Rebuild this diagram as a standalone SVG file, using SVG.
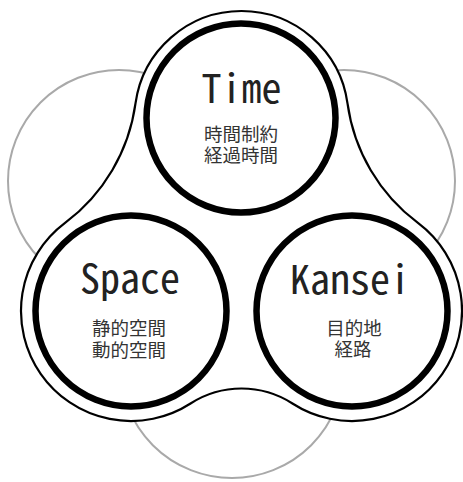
<svg xmlns="http://www.w3.org/2000/svg" width="463" height="482" viewBox="0 0 463 482">
<style>
.bg{fill:none;stroke:#a9a9a9;stroke-width:2}
.blob{fill:#fff;stroke:#000;stroke-width:2.2}
.ring{fill:#fff;stroke:#000;stroke-width:6.5}
.title{font-family:"Noto Sans Mono CJK JP","Noto Sans CJK JP","DejaVu Sans Mono",monospace;font-size:40px;fill:#222;text-anchor:middle}
.sub{font-family:"Noto Sans CJK JP","Noto Sans",sans-serif;font-size:18.5px;fill:#333;text-anchor:middle}
</style>
<rect width="463" height="482" fill="#fff"/>
<g id="background">
<circle class="bg" cx="119" cy="181" r="111"/>
<circle class="bg" cx="344" cy="181" r="111"/>
<circle class="bg" cx="232" cy="366" r="112"/>
</g>
<g id="outline">
<path class="blob" d="M135.5 103.41 A107 107 0 0 1 347.5 103.41 A180 180 0 0 0 417.93 222.95 A110 110 0 0 1 292.45 403.49 A94.1 94.1 0 0 0 190.55 403.49 A110 110 0 0 1 65.07 222.95 A180 180 0 0 0 135.5 103.41 Z"/>
</g>
<g id="node-time">
<circle class="ring" cx="241" cy="118" r="94.5"/>
<text class="title" x="241.5" y="103">Time</text>
<text class="sub" x="241" y="140.5">時間制約</text>
<text class="sub" x="241" y="162">経過時間</text>
</g>
<g id="node-space">
<circle class="ring" cx="131" cy="311" r="95.5"/>
<text class="title" x="130" y="293">Space</text>
<text class="sub" x="129" y="335">静的空間</text>
<text class="sub" x="129" y="356.5">動的空間</text>
</g>
<g id="node-kansei">
<circle class="ring" cx="352" cy="311" r="95.5"/>
<text class="title" x="350" y="294">Kansei</text>
<text class="sub" x="354" y="334.5">目的地</text>
<text class="sub" x="353" y="356">経路</text>
</g>
</svg>
